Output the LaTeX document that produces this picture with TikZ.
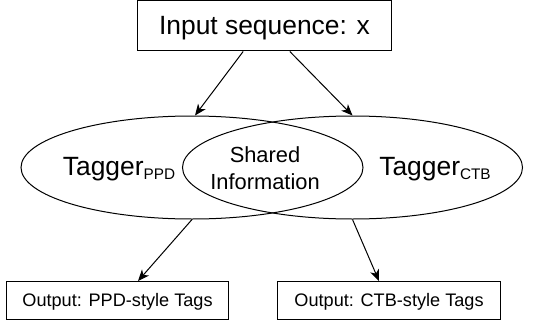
\documentclass[tikz,border=0pt]{standalone}
\usepackage{fontspec}
\setmainfont{Liberation Sans}
\usetikzlibrary{shapes.geometric,arrows.meta}
\begin{document}
\begin{tikzpicture}[x=0.75pt,y=-0.75pt,
  box/.style={draw,line width=0.75pt,inner sep=0pt},
  ell/.style={draw,ellipse,line width=0.75pt,inner sep=0pt},
  arr/.style={line width=0.75pt,-{Stealth[length=8.5pt,width=7pt,inset=2.5pt]}},
  txt/.style={inner sep=0pt}]
\useasboundingbox (0,0) rectangle (541,328);
\node[box,minimum width=190.5pt,minimum height=37.5pt] (in) at (264.5,26) {};
\node[txt,anchor=base,font=\fontsize{19.8pt}{24pt}\selectfont] (intxt) at (264.5,35) {Input sequence: x};
\node[ell,minimum width=256.5pt,minimum height=77.25pt] (L) at (192,167.5) {};
\node[ell,minimum width=255pt,minimum height=77.25pt] (R) at (352.5,167.5) {};
\node[txt,anchor=base,font=\fontsize{19.8pt}{24pt}\selectfont] (tl) at (119,175) {Tagger{\fontsize{11.5pt}{13pt}\selectfont\raisebox{-3pt}{PPD}}};
\node[txt,anchor=base,font=\fontsize{19.8pt}{24pt}\selectfont] (tr) at (435,175) {Tagger{\fontsize{11.5pt}{13pt}\selectfont\raisebox{-3pt}{CTB}}};
\node[txt,align=center,font=\fontsize{16.4pt}{19.9pt}\selectfont] (sh) at (265,168) {Shared\\Information};
\node[box,minimum width=166.5pt,minimum height=28.5pt] (ol) at (117.5,300.5) {};
\node[txt,anchor=base,font=\fontsize{13.6pt}{16pt}\selectfont] (oltxt) at (117.5,306.5) {Output: PPD-style Tags};
\node[box,minimum width=167.5pt,minimum height=28.5pt] (or) at (389,300.5) {};
\node[txt,anchor=base,font=\fontsize{13.6pt}{16pt}\selectfont] (ortxt) at (389,306.5) {Output: CTB-style Tags};
\draw[arr] ([xshift=-16pt]in.south) -- ([xshift=2.25pt]L.north);
\draw[arr] ([xshift=19pt]in.south) -- (R.north);
\draw[arr] (L.south) -- ([xshift=15.4pt]ol.north);
\draw[arr] (R.south) -- ([xshift=-7.5pt]or.north);
\end{tikzpicture}
\end{document}
